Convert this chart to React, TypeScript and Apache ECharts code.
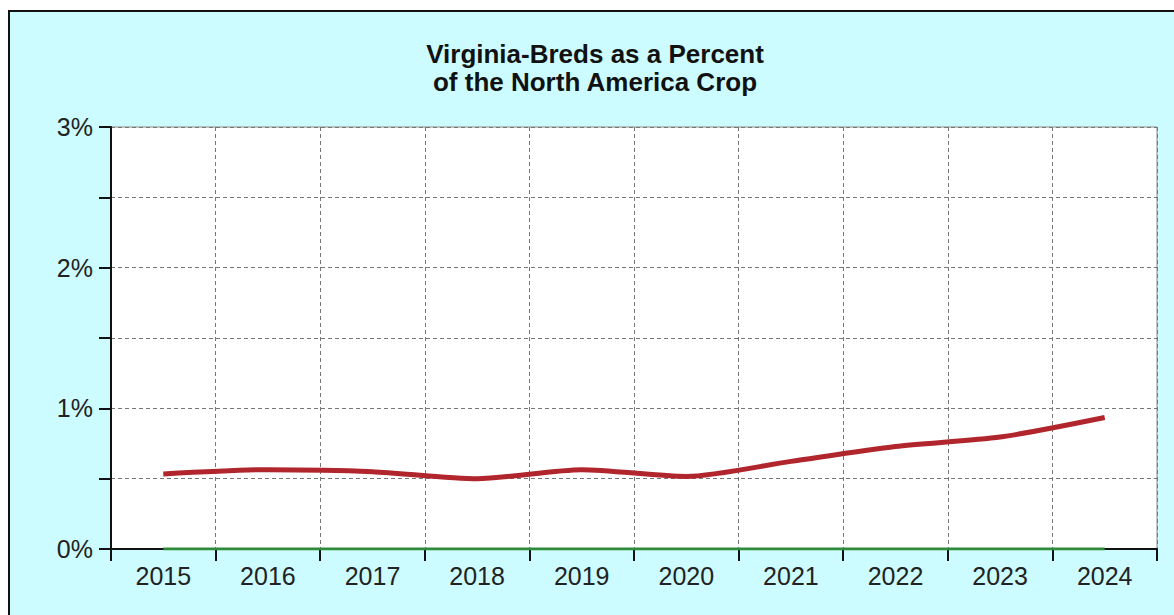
import React, { useEffect, useRef } from "react";
import * as echarts from "echarts";

const years = ["2015", "2016", "2017", "2018", "2019", "2020", "2021", "2022", "2023", "2024"];
const virginiaPct = [0.533, 0.564, 0.55, 0.5, 0.564, 0.516, 0.623, 0.729, 0.796, 0.935];
const baselinePct = [0, 0, 0, 0, 0, 0, 0, 0, 0, 0];
const titleLines = ["Virginia-Breds as a Percent", "of the North America Crop"];

export default function App() {
  const ref = useRef<HTMLDivElement>(null);
  useEffect(() => {
    document.body.style.margin = "0";
    const chart = echarts.init(ref.current!, null, { renderer: "svg" });
    const font = "'Liberation Sans', Arial, sans-serif";
    chart.setOption({
      animation: false,
      backgroundColor: "#ffffff",
      graphic: [
        {
          type: "rect",
          shape: { x: 9, y: 11, width: 1180, height: 620 },
          style: { fill: "#ccfcff", stroke: "#111", lineWidth: 2 },
          z: -10,
        },
        {
          type: "text",
          x: 595,
          y: 40,
          style: {
            text: titleLines.join("\n"),
            font: "bold 26px " + font,
            fill: "#111",
            align: "center",
            verticalAlign: "top",
            lineHeight: 28,
          },
        },
      ],
      grid: {
        left: 111,
        top: 127,
        width: 1046,
        height: 422,
        show: true,
        backgroundColor: "#ffffff",
        borderColor: "#8a8a8a",
        borderWidth: 1,
        containLabel: false,
      },
      xAxis: {
        type: "category",
        data: years,
        boundaryGap: true,
        axisLine: { show: true, lineStyle: { color: "#111", width: 2 } },
        axisTick: { show: true, interval: 0, length: 12, lineStyle: { color: "#111", width: 2 } },
        axisLabel: { interval: 0, margin: 14, fontSize: 25, fontFamily: font, color: "#222" },
        splitLine: { show: true, interval: 0, lineStyle: { color: "#777", type: [4, 3], width: 1 } },
      },
      yAxis: {
        type: "value",
        min: 0,
        max: 3,
        interval: 0.5,
        axisLine: { show: true, lineStyle: { color: "#111", width: 2 } },
        axisTick: { show: true, length: 12, lineStyle: { color: "#111", width: 2 } },
        axisLabel: {
          margin: 18,
          fontSize: 25,
          fontFamily: font,
          color: "#222",
          formatter: (v: number) => (Math.abs(v - Math.round(v)) < 1e-9 ? Math.round(v) + "%" : ""),
        },
        splitLine: { show: true, lineStyle: { color: "#777", type: [4, 3], width: 1 } },
      },
      series: [
        {
          type: "line",
          data: baselinePct,
          showSymbol: false,
          lineStyle: { color: "#2f8a3a", width: 3 },
          z: 3,
        },
        {
          type: "line",
          data: virginiaPct,
          showSymbol: false,
          smooth: 0.25,
          lineStyle: { color: "#b0262c", width: 5, cap: "butt" },
          z: 4,
        },
      ],
    });
    return () => chart.dispose();
  }, []);
  return <div ref={ref} style={{ position: "fixed", left: 0, top: 0, width: 1174, height: 615 }} />;
}
